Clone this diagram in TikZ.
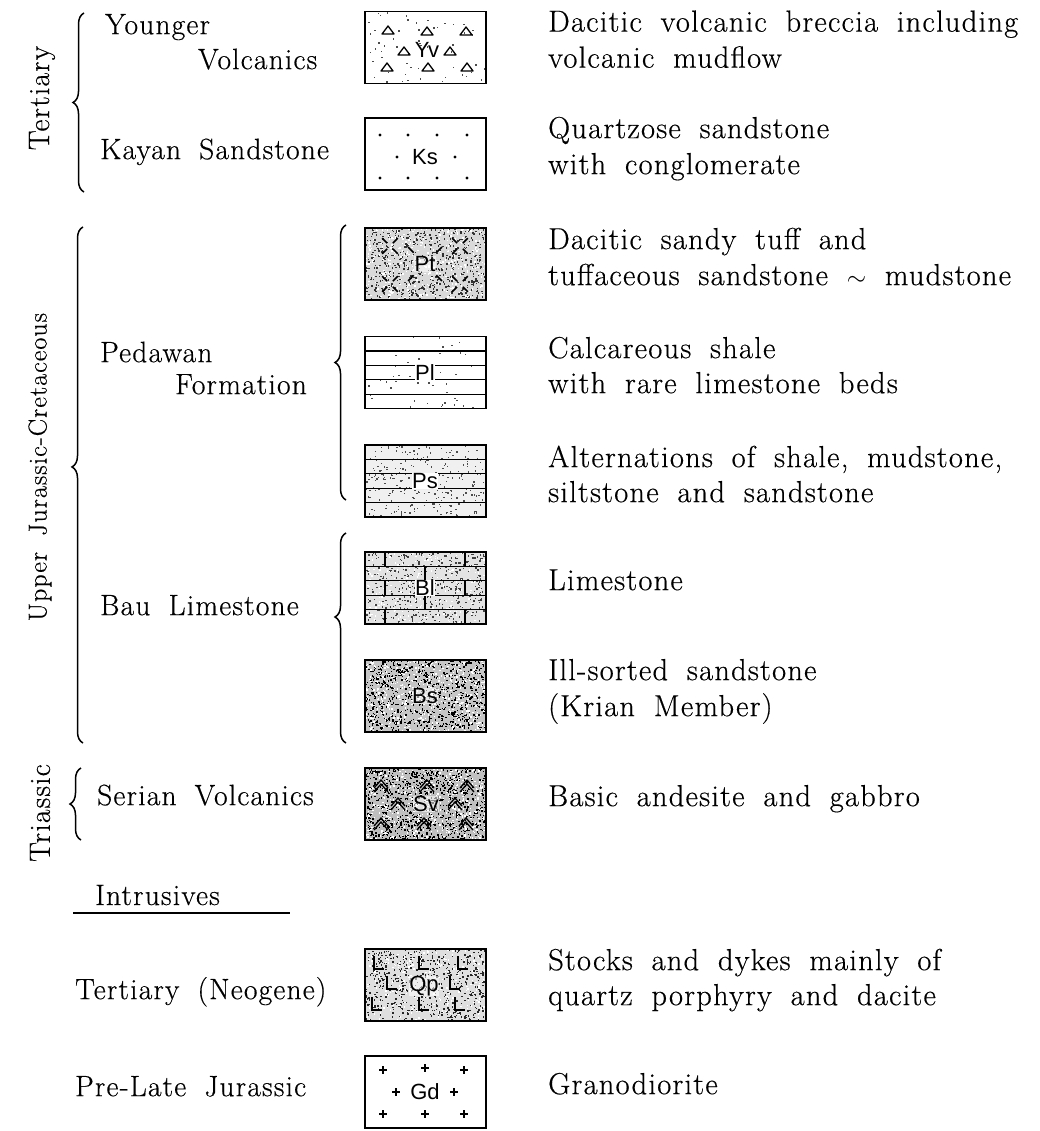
\documentclass[tikz,border=0pt]{standalone}
\usepackage{fontspec}
\setmainfont{Latin Modern Roman}[LetterSpace=4,WordSpace=1.8,FakeBold=0.4]
\setsansfont{Liberation Sans}
\usetikzlibrary{decorations.pathreplacing}
\newcommand{\gStip}[6]{\foreach \k in {1,...,#5}{\fill[#6] ({#1+rnd*(#3-#1)},{#2+rnd*(#4-#2)}) rectangle ++(1.4,1.4);}}
\newcommand{\gTri}[2]{\draw[sym,line join=round] (#1-6,#2+4) -- (#1,#2-4) -- (#1+6,#2+4) -- cycle;}
\newcommand{\gDot}[2]{\fill (#1,#2) circle (1.6);}
\newcommand{\gChev}[2]{\draw[sym] (#1-7,#2+4) -- (#1,#2-4) -- (#1+7,#2+4); \draw[sym] (#1-7,#2+8) -- (#1,#2) -- (#1+7,#2+8);}
\newcommand{\gEl}[2]{\draw[sym] (#1-4,#2-7) -- (#1-4,#2+6) -- (#1+6,#2+6);}
\newcommand{\gPlus}[2]{\draw[sym] (#1-4,#2) -- (#1+4,#2) (#1,#2-4) -- (#1,#2+4);}
\newcommand{\gBurst}[4]{\foreach \a in {45,135,225,315}{\draw[line width=1.5pt] ({#1+#3*cos(\a)},{#2+#3*sin(\a)}) -- ({#1+#4*cos(\a)},{#2+#4*sin(\a)});}}
\begin{document}
\begin{tikzpicture}[x=1pt,y=-1pt,
  txt/.style={anchor=mid west,inner sep=0pt,font=\fontsize{29.5}{36}\selectfont},
  rtxt/.style={anchor=mid west,inner sep=0pt,font=\fontsize{30.5}{36}\selectfont},
  vtxt/.style={rotate=90,inner sep=0pt,font=\fontsize{29.5}{36}\selectfont},
  unitbox/.style={draw,line width=1.8pt,minimum width=121pt,minimum height=72pt,inner sep=0pt},
  lbl/.style={font=\sffamily\fontsize{22}{23}\selectfont,inner sep=1pt},
  halo/.style={fill=white,fill opacity=0.55,text opacity=1,inner sep=0.5pt},
  brc/.style={decorate,line width=1.5pt},
  sym/.style={line width=1.3pt},
  rule/.style={line width=1.3pt}]
\useasboundingbox (0,0) rectangle (1040,1131);
\pgfmathsetseed{7}

% ---------- left column ----------
\node[vtxt] (tert) at (42,98) {Tertiary};
\node[vtxt,font=\fontsize{26}{32}\selectfont] (ujc) at (40,467) {Upper Jurassic-Cretaceous};
\node[vtxt] (trias) at (40,813) {Triassic};

\draw[brc,decoration={brace,amplitude=11pt,aspect=0.5}] (84,192) -- (84,13);
\draw[brc,decoration={brace,amplitude=11pt,aspect=0.535}] (83,743) -- (83,227);
\draw[brc,decoration={brace,amplitude=11pt,aspect=0.5}] (346,500) -- (346,225);
\draw[brc,decoration={brace,amplitude=11pt,aspect=0.6}] (346,743) -- (346,533);
\draw[brc,decoration={brace,amplitude=11pt,aspect=0.5}] (81,840) -- (81,768);

\node[txt] (yng) at (105,32) {Younger};
\node[txt] (vol) at (198,67) {Volcanics};
\node[txt] (kay) at (100,157) {Kayan Sandstone};
\node[txt] (ped) at (100,360) {Pedawan};
\node[txt] (form) at (175,392) {Formation};
\node[txt] (bau) at (100,613) {Bau Limestone};
\node[txt] (ser) at (97,803) {Serian Volcanics};
\node[anchor=base west,inner sep=0pt,font=\fontsize{29.5}{36}\selectfont] (intr) at (95,905) {Intrusives};
\coordinate (ulA) at (73,913);
\coordinate (ulB) at (290,913);
\draw[rule] (ulA) -- (ulB);
\node[txt] (neo) at (75,997) {Tertiary (Neogene)};
\node[txt] (plj) at (75,1094) {Pre-Late Jurassic};

% ---------- legend boxes ----------
% Yv
\begin{scope}
\clip (365,11.5) rectangle (486,83.5);
\gStip{365}{11.5}{486}{83.5}{60}{black!70}
\end{scope}
\gTri{388}{30}\gTri{427}{31}\gTri{466}{31}
\gTri{404}{51}\gTri{450}{51}
\gTri{387}{67}\gTri{428}{67}\gTri{467}{67}
\node[unitbox] (yv) at (425.5,47.5) {};
\node[lbl] (yvl) at (427,50) {Yv};

% Ks
\gDot{380}{135}\gDot{408}{135}\gDot{437}{135}\gDot{467}{135}
\gDot{397}{157}\gDot{455}{157}
\gDot{380}{178}\gDot{408}{178}\gDot{437}{178}\gDot{467}{178}
\node[unitbox] (ks) at (425.5,154) {};
\node[lbl] (ksl) at (425,157) {Ks};

% Pt
\begin{scope}
\clip (365,228) rectangle (486,300);
\fill[gray!30] (365,228) rectangle (486,300);
\gStip{365}{228}{486}{300}{650}{black!80}
\gStip{365}{228}{486}{300}{350}{white}
\gBurst{390}{246}{4}{11}\gBurst{460}{246}{4}{11}
\gBurst{390}{284}{4}{11}\gBurst{460}{284}{4}{11}
\gBurst{425}{264}{16}{24}
\end{scope}
\node[unitbox] (pt) at (425.5,264) {};
\node[lbl,halo] (ptl) at (425,264) {Pt};

% Pl
\begin{scope}
\clip (365,336.5) rectangle (486,408.5);
\gStip{365}{336.5}{486}{408.5}{45}{black!70}
\foreach \yy in {350.9,365.3,379.7,394.1} \draw[line width=1.2pt] (365,\yy) -- (486,\yy);
\end{scope}
\node[unitbox] (pl) at (425.5,372.5) {};
\node[lbl,fill=white,inner sep=0.5pt] (pll) at (425,372.5) {Pl};

% Ps
\begin{scope}
\clip (365,445) rectangle (486,517);
\fill[gray!12] (365,445) rectangle (486,517);
\gStip{365}{445}{486}{517}{260}{black!70}
\foreach \yy in {459.4,473.8,488.2,502.6} \draw[line width=1.2pt] (365,\yy) -- (486,\yy);
\end{scope}
\node[unitbox] (ps) at (425.5,481) {};
\node[lbl,fill=white,inner sep=0.5pt] (psl) at (425,481) {Ps};

% Bl
\begin{scope}
\clip (365,552) rectangle (486,624);
\fill[gray!22] (365,552) rectangle (486,624);
\gStip{365}{552}{486}{624}{450}{black!75}
\gStip{365}{552}{486}{624}{200}{white}
\foreach \yy in {566.4,580.8,595.2,609.6} \draw[line width=1.2pt] (365,\yy) -- (486,\yy);
\foreach \yt in {552,580.8,609.6} \draw[line width=1.2pt] (385,\yt) -- ++(0,14.4) (465,\yt) -- ++(0,14.4);
\foreach \yt in {566.4,595.2} \draw[line width=1.2pt] (425,\yt) -- ++(0,14.4);
\end{scope}
\node[unitbox] (bl) at (425.5,588) {};
\node[lbl,fill=white,inner sep=0.5pt] (bll) at (425,588) {Bl};

% Bs
\begin{scope}
\clip (365,660) rectangle (486,732);
\fill[gray!45] (365,660) rectangle (486,732);
\gStip{365}{660}{486}{732}{900}{black}
\gStip{365}{660}{486}{732}{450}{white}
\end{scope}
\node[unitbox] (bs) at (425.5,696) {};
\node[lbl,halo] (bsl) at (425,696) {Bs};

% Sv
\begin{scope}
\clip (365,768) rectangle (486,840);
\fill[gray!50] (365,768) rectangle (486,840);
\gStip{365}{768}{486}{840}{950}{black}
\gStip{365}{768}{486}{840}{420}{white}
\gChev{381}{784}\gChev{427}{784}\gChev{467}{784}
\gChev{398}{802}\gChev{455}{802}
\gChev{381}{822}\gChev{424}{822}\gChev{466}{822}
\end{scope}
\node[unitbox] (sv) at (425.5,804) {};
\node[lbl,halo] (svl) at (426,804) {Sv};

% Qp
\begin{scope}
\clip (365,949) rectangle (486,1021);
\fill[gray!25] (365,949) rectangle (486,1021);
\gStip{365}{949}{486}{1021}{600}{black!85}
\gStip{365}{949}{486}{1021}{250}{white}
\gEl{378}{963}\gEl{423}{963}\gEl{462}{963}
\gEl{391}{983}\gEl{454}{983}
\gEl{376}{1004}\gEl{423}{1004}\gEl{459}{1004}
\end{scope}
\node[unitbox] (qp) at (425.5,985) {};
\node[lbl,halo] (qpl) at (424,986) {Qp};

% Gd
\gPlus{383}{1070}\gPlus{425}{1068}\gPlus{464}{1070}
\gPlus{396}{1092}\gPlus{454}{1092}
\gPlus{383}{1114}\gPlus{425}{1114}\gPlus{464}{1114}
\node[unitbox] (gd) at (425.5,1092) {};
\node[lbl] (gdl) at (425,1092) {Gd};

% ---------- descriptions ----------
\node[rtxt] (d1a) at (548,29.5) {Dacitic volcanic breccia including};
\node[rtxt] (d1b) at (548,65.5) {volcanic mudflow};
\node[rtxt] (d2a) at (548,136) {Quartzose sandstone};
\node[rtxt] (d2b) at (548,172) {with conglomerate};
\node[rtxt] (d3a) at (548,247) {Dacitic sandy tuff and};
\node[rtxt] (d3b) at (548,283) {tuffaceous sandstone $\sim$ mudstone};
\node[rtxt] (d4a) at (548,356) {Calcareous shale};
\node[rtxt] (d4b) at (548,391) {with rare limestone beds};
\node[rtxt] (d5a) at (548,465) {Alternations of shale, mudstone,};
\node[rtxt] (d5b) at (548,500) {siltstone and sandstone};
\node[rtxt] (d6) at (548,588) {Limestone};
\node[rtxt] (d7a) at (548,678) {Ill-sorted sandstone};
\node[rtxt] (d7b) at (548,714) {(Krian Member)};
\node[rtxt] (d8) at (548,804) {Basic andesite and gabbro};
\node[rtxt] (d9a) at (548,968) {Stocks and dykes mainly of};
\node[rtxt] (d9b) at (548,1003) {quartz porphyry and dacite};
\node[rtxt] (d10) at (548,1092) {Granodiorite};
\end{tikzpicture}
\end{document}
